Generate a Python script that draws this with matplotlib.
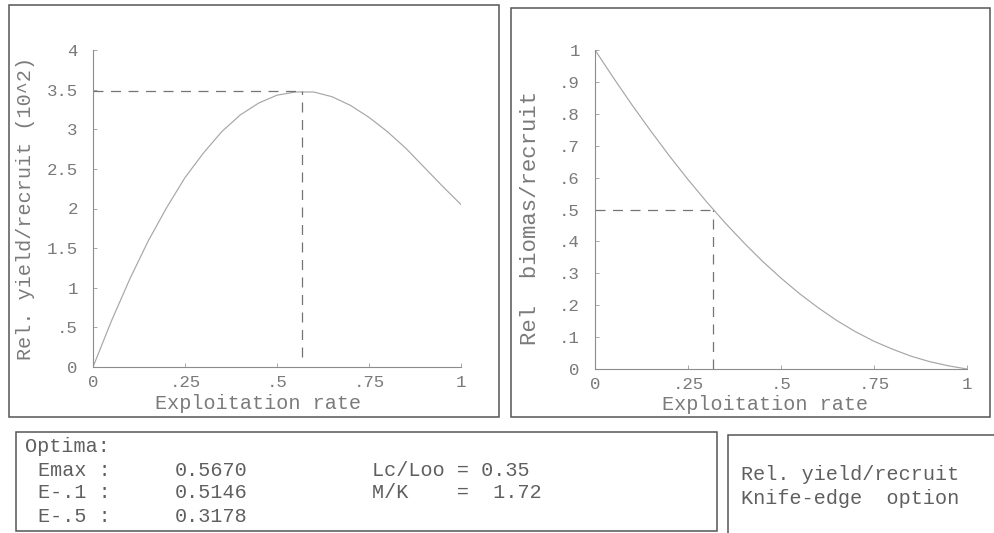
import matplotlib.pyplot as plt
from matplotlib.patches import Rectangle

W, H = 995, 533

# values
exploit_rate = [0.00, 0.05, 0.10, 0.15, 0.20, 0.25, 0.30, 0.35, 0.40, 0.45, 0.50,
                0.55, 0.60, 0.65, 0.70, 0.75, 0.80, 0.85, 0.90, 0.95, 1.00]
rel_yield = [0.00, 0.58, 1.11, 1.59, 2.01, 2.39, 2.70, 2.97, 3.18, 3.33, 3.43,
             3.47, 3.47, 3.41, 3.30, 3.15, 2.97, 2.76, 2.52, 2.28, 2.05]
rel_biomass = [1.000, 0.912, 0.827, 0.746, 0.668, 0.594, 0.524, 0.458, 0.396, 0.338, 0.285,
               0.236, 0.192, 0.152, 0.117, 0.087, 0.062, 0.040, 0.023, 0.010, 0.000]

e_max = 0.5670
e_01 = 0.5146
e_05 = 0.3178
yield_at_emax = 3.48
biomass_at_e05 = 0.5
lc_loo = 0.35
m_k = 1.72

x_ticks = [0, 0.25, 0.5, 0.75, 1]
x_ticklabels = ['0', '.25', '.5', '.75', '1']
yield_ticks = [0, 0.5, 1, 1.5, 2, 2.5, 3, 3.5, 4]
yield_ticklabels = ['0', '.5', '1', '1.5', '2', '2.5', '3', '3.5', '4']
biomass_ticks = [0, 0.1, 0.2, 0.3, 0.4, 0.5, 0.6, 0.7, 0.8, 0.9, 1]
biomass_ticklabels = ['0', '.1', '.2', '.3', '.4', '.5', '.6', '.7', '.8', '.9', '1']

MONO = 'Liberation Mono'
TXT = '#7a7a7a'
FRAME = '#555555'


def fx(px):
    return px / W


def fy(py):
    return 1 - py / H


def style_axes(ax, yticks, yticklabels, ylabel, ypad, ylabel_size=14.5):
    ax.set_xlim(0, 1)
    ax.set_ylim(yticks[0], yticks[-1])
    for s in ['top', 'right']:
        ax.spines[s].set_visible(False)
    for s in ['left', 'bottom']:
        ax.spines[s].set_color('#8c8c8c')
        ax.spines[s].set_linewidth(0.8)
    ax.set_xticks(x_ticks)
    ax.set_xticklabels(x_ticklabels)
    ax.set_yticks(yticks)
    ax.set_yticklabels(yticklabels)
    ax.tick_params(axis='both', length=3, width=0.6, color='#999999',
                   direction='in', labelcolor=TXT, labelsize=12.5)
    ax.tick_params(axis='y', pad=ypad)
    ax.tick_params(axis='x', pad=6)
    for lab in ax.get_xticklabels() + ax.get_yticklabels():
        lab.set_family(MONO)
    ax.set_xlabel('Exploitation rate', family=MONO, fontsize=14.5, color=TXT)
    ax.set_ylabel(ylabel, family=MONO, fontsize=ylabel_size, color=TXT)


fig = plt.figure(figsize=(W / 100, H / 100), dpi=100)
fig.patch.set_facecolor('white')

# left panel: relative yield per recruit
ax1 = fig.add_axes([fx(93), fy(367), fx(461) - fx(93), fy(50) - fy(367)])
ax1.plot(exploit_rate, rel_yield, color='#a6a6a6', lw=0.85)
ax1.plot([0, e_max], [yield_at_emax, yield_at_emax], color='#747474', lw=0.9, ls=(0, (8, 6)))
ax1.plot([e_max, e_max], [0.12, yield_at_emax], color='#747474', lw=0.9, ls=(0, (8, 6)))
style_axes(ax1, yield_ticks, yield_ticklabels, 'Rel. yield/recruit (10^2)', 11)
ax1.yaxis.set_label_coords(-0.158, 0.5)
ax1.xaxis.set_label_coords(0.448, -0.085)

# right panel: relative biomass per recruit
ax2 = fig.add_axes([fx(595), fy(369), fx(967) - fx(595), fy(50) - fy(369)])
ax2.plot(exploit_rate, rel_biomass, color='#a6a6a6', lw=0.85)
ax2.plot([0, e_05], [biomass_at_e05, biomass_at_e05], color='#747474', lw=0.9, ls=(0, (8, 6)))
ax2.plot([e_05, e_05], [0, biomass_at_e05], color='#747474', lw=0.9, ls=(0, (8, 6)))
style_axes(ax2, biomass_ticks, biomass_ticklabels, 'Rel  biomas/recruit', 11, ylabel_size=16)
ax2.yaxis.set_label_coords(-0.145, 0.475)
ax2.xaxis.set_label_coords(0.457, -0.08)

# panel frames
frames = [(9, 5, 499, 417), (511, 8, 990, 417), (16, 432, 717, 531), (728, 435, 998, 536)]
for x0, y0, x1, y1 in frames:
    fig.patches.append(Rectangle((fx(x0), fy(y1)), fx(x1) - fx(x0), fy(y0) - fy(y1),
                                 transform=fig.transFigure, fill=False,
                                 edgecolor=FRAME, lw=1.1))

# results box
box_kw = dict(family=MONO, fontsize=14.5, color='#5f5f5f', va='center', ha='left')
fig.text(fx(25), fy(446), 'Optima:', **box_kw)
rows = [('Emax :', e_max), ('E-.1 :', e_01), ('E-.5 :', e_05)]
for i, (name, val) in enumerate(rows):
    y = fy(470 + 23 * i)
    fig.text(fx(38), y, name, **box_kw)
    fig.text(fx(175), y, f'{val:.4f}', **box_kw)
fig.text(fx(372), fy(470), f'Lc/Loo = {lc_loo:.2f}', **box_kw)
fig.text(fx(372), fy(493), f'M/K    =  {m_k:.2f}', **box_kw)

fig.text(fx(741), fy(475), 'Rel. yield/recruit', **box_kw)
fig.text(fx(741), fy(498), 'Knife-edge  option', **box_kw)

fig.savefig('out.png', dpi=100)
